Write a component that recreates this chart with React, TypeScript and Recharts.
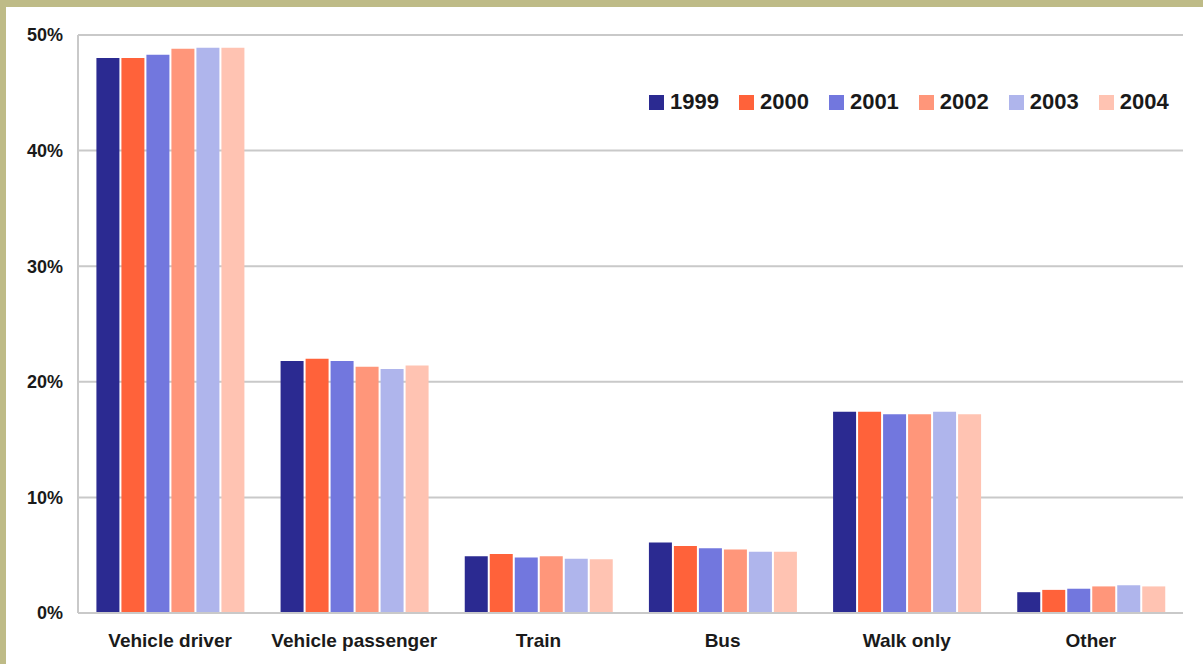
import React from 'react';
import { BarChart, Bar, XAxis, YAxis, CartesianGrid, Legend } from 'recharts';

// travel mode share by year (%)
const modes = ['Vehicle driver', 'Vehicle passenger', 'Train', 'Bus', 'Walk only', 'Other'];
const years = ['1999', '2000', '2001', '2002', '2003', '2004'];

const y1999 = [48.0, 21.8, 4.9, 6.1, 17.4, 1.8];
const y2000 = [48.0, 22.0, 5.1, 5.8, 17.4, 2.0];
const y2001 = [48.3, 21.8, 4.8, 5.6, 17.2, 2.1];
const y2002 = [48.8, 21.3, 4.9, 5.5, 17.2, 2.3];
const y2003 = [48.9, 21.1, 4.7, 5.3, 17.4, 2.4];
const y2004 = [48.9, 21.4, 4.65, 5.3, 17.2, 2.3];

const yTicks = [0, 10, 20, 30, 40, 50];

const COLORS = ['#2B2A91', '#FF623A', '#7277DE', '#FF967A', '#AFB5EC', '#FFC3B2'];

const series = [y1999, y2000, y2001, y2002, y2003, y2004];

const chartData = modes.map((name, i) => {
  const row: Record<string, string | number> = { name };
  years.forEach((yr, j) => {
    row[yr] = series[j][i];
  });
  return row;
});

const FONT = '"Liberation Sans", Arial, sans-serif';

const renderLegend = () => (
  <div style={{ display: 'flex', alignItems: 'center', fontFamily: FONT, height: 24 }}>
    {years.map((yr, i) => (
      <div key={yr} style={{ display: 'flex', alignItems: 'center', marginRight: 20 }}>
        <span style={{ width: 15, height: 15, background: COLORS[i], display: 'inline-block', marginRight: 6 }} />
        <span style={{ fontSize: 22, fontWeight: 'bold', color: '#1a1a1a', lineHeight: '24px' }}>{yr}</span>
      </div>
    ))}
  </div>
);

export default function App() {
  return (
    <div style={{ position: 'absolute', left: 0, top: 0, width: 1203, height: 664, background: '#BEBB87' }}>
      <div style={{ position: 'absolute', left: 6, top: 7, width: 1197, height: 657, background: '#ffffff' }}>
        <BarChart
          width={1197}
          height={657}
          data={chartData}
          margin={{ top: 28, right: 20, left: 0, bottom: 11 }}
          barCategoryGap="10%"
          barGap={2}
        >
          <CartesianGrid vertical={false} stroke="#c9c9c9" strokeWidth={2} />
          {/* legend height (24) is taken from the bottom by recharts, so the axis height is kept small */}
          <XAxis
            dataKey="name"
            height={16}
            tickSize={0}
            tickMargin={21}
            axisLine={{ stroke: '#c9c9c9', strokeWidth: 2 }}
            tick={{ fontSize: 19, fontWeight: 'bold', fill: '#1a1a1a', fontFamily: FONT }}
          />
          <YAxis
            width={72}
            domain={[0, 50]}
            ticks={yTicks}
            tickSize={0}
            tickMargin={15}
            tickFormatter={(v: number) => `${v}%`}
            axisLine={{ stroke: '#c9c9c9', strokeWidth: 2 }}
            tick={{ fontSize: 18, fontWeight: 'bold', fill: '#1a1a1a', fontFamily: FONT }}
          />
          <Legend content={renderLegend} wrapperStyle={{ top: 83, left: 643, width: 560, height: 24 }} />
          {years.map((yr, i) => (
            <Bar key={yr} dataKey={yr} fill={COLORS[i]} isAnimationActive={false} />
          ))}
        </BarChart>
      </div>
    </div>
  );
}
